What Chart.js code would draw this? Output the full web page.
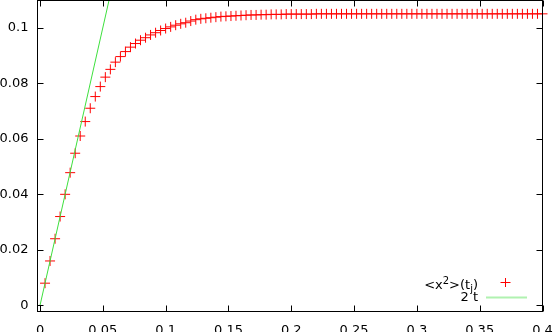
<!DOCTYPE html>
<html>
<head>
<meta charset="utf-8">
<style>
  body { margin: 0; background: #fff; }
</style>
</head>
<body>
<canvas id="myChart" width="554" height="332"></canvas>

<script src="https://cdn.jsdelivr.net/npm/chart.js@4.4.0/dist/chart.umd.min.js"></script>
<script>
    // sample times t_j = 0.004 * j
    const tValues = [];
    for (let j = 1; j <= 100; j++) tValues.push(+(0.004 * j).toFixed(3));

    // <x^2>(t_j)
    const msdValues = [
        0.0080, 0.0160, 0.0240, 0.0320, 0.0400, 0.0478, 0.0548, 0.0610, 0.0662, 0.0710,
        0.0752, 0.0788, 0.0822, 0.0850, 0.0876, 0.0896, 0.0914, 0.0930, 0.0943, 0.0955,
        0.0964, 0.0974, 0.0982, 0.0990, 0.0997, 0.1003, 0.1009, 0.1014, 0.1018, 0.1024,
        0.1029, 0.1032, 0.1034, 0.1036, 0.1038, 0.1040, 0.1041, 0.1042, 0.1043, 0.1044,
        0.1045, 0.1046, 0.1046, 0.1047, 0.1047, 0.1048, 0.1048, 0.1048, 0.1049, 0.1049,
        0.1049, 0.1049, 0.1049, 0.1049, 0.1050, 0.1050, 0.1050, 0.1050, 0.1050, 0.1050,
        0.1050, 0.1050, 0.1050, 0.1050, 0.1050, 0.1050, 0.1050, 0.1050, 0.1050, 0.1050,
        0.1050, 0.1050, 0.1050, 0.1050, 0.1050, 0.1050, 0.1050, 0.1050, 0.1050, 0.1050,
        0.1050, 0.1050, 0.1050, 0.1050, 0.1050, 0.1050, 0.1050, 0.1050, 0.1050, 0.1050,
        0.1050, 0.1050, 0.1050, 0.1050, 0.1050, 0.1050, 0.1050, 0.1050, 0.1050, 0.1050
    ];

    // the straight line 2*t, two end points
    const lineT = [0, 0.4];
    const lineY = [0, 0.8];

    const xTicks = [0, 0.05, 0.1, 0.15, 0.2, 0.25, 0.3, 0.35, 0.4];
    const xTickLabels = ['0', '0.05', '0.1', '0.15', '0.2', '0.25', '0.3', '0.35', '0.4'];
    const yTicks = [0, 0.02, 0.04, 0.06, 0.08, 0.1];
    const yTickLabels = ['0', '0.02', '0.04', '0.06', '0.08', '0.1'];

    const pointData = tValues.map((t, i) => ({ x: t, y: msdValues[i] }));
    const lineData = lineT.map((t, i) => ({ x: t, y: lineY[i] }));

    Chart.defaults.font.family = 'DejaVu Sans';
    Chart.defaults.font.size = 13;
    Chart.defaults.color = '#000';

    // gnuplot style frame with inward ticks on all four sides + legend
    const framePlugin = {
        id: 'frame',
        afterDraw(chart) {
            const ctx = chart.ctx;
            const a = chart.chartArea;
            const xs = chart.scales.x, ys = chart.scales.y;
            ctx.save();
            ctx.strokeStyle = '#000';
            ctx.lineWidth = 1;
            ctx.beginPath();
            xTicks.forEach(v => {
                const px = Math.round(xs.getPixelForValue(v)) + 0.5;
                ctx.moveTo(px, a.bottom); ctx.lineTo(px, a.bottom - 6);
                ctx.moveTo(px, a.top); ctx.lineTo(px, a.top + 6);
            });
            yTicks.forEach(v => {
                const py = Math.round(ys.getPixelForValue(v)) + 0.5;
                ctx.moveTo(a.left, py); ctx.lineTo(a.left + 6, py);
                ctx.moveTo(a.right, py); ctx.lineTo(a.right - 6, py);
            });
            ctx.stroke();
            ctx.strokeRect(a.left, a.top, a.right - a.left, a.bottom - a.top);

            // legend
            ctx.fillStyle = '#000';
            ctx.textBaseline = 'alphabetic';
            const big = '13px "DejaVu Sans"', small = '10px "DejaVu Sans"';
            const parts = [['<x', big, 0], ['2', small, -5], ['>(t', big, 0], ['j', small, 3], [')', big, 0]];
            let w = 0;
            parts.forEach(p => { ctx.font = p[1]; w += ctx.measureText(p[0]).width; });
            let x = 478 - w;
            ctx.textAlign = 'left';
            parts.forEach(p => {
                ctx.font = p[1];
                ctx.fillText(p[0], x, 289 + p[2]);
                x += ctx.measureText(p[0]).width;
            });
            ctx.font = big;
            ctx.textAlign = 'right';
            ctx.fillText('2 t', 478, 301);

            ctx.strokeStyle = '#ff0000';
            ctx.beginPath();
            ctx.moveTo(500.5, 282.5); ctx.lineTo(510.5, 282.5);
            ctx.moveTo(505.5, 278); ctx.lineTo(505.5, 287);
            ctx.stroke();

            ctx.strokeStyle = '#b0f2b0';
            ctx.lineWidth = 2;
            ctx.beginPath();
            ctx.moveTo(486, 297.5); ctx.lineTo(527, 297.5);
            ctx.stroke();
            ctx.restore();
        }
    };

    const ctx = document.getElementById('myChart').getContext('2d');
    const myChart = new Chart(ctx, {
        type: 'scatter',
        data: {
            datasets: [{
                label: '2 t',
                type: 'line',
                data: lineData,
                borderColor: '#3ee03e',
                borderWidth: 1,
                pointRadius: 0,
                fill: false,
                clip: 0,
                order: 0
            }, {
                label: '<x2>(tj)',
                data: pointData,
                pointStyle: 'cross',
                pointRadius: 5,
                pointHoverRadius: 5,
                borderColor: '#ff0000',
                backgroundColor: '#ff0000',
                borderWidth: 1,
                clip: false,
                order: 1
            }]
        },
        options: {
            responsive: false,
            animation: false,
            events: [],
            layout: { autoPadding: false, padding: { top: 0.5, right: 11.5, bottom: 0, left: 0 } },
            plugins: { legend: { display: false }, tooltip: { enabled: false } },
            scales: {
                x: {
                    type: 'linear',
                    min: -0.002,
                    max: 0.4,
                    grid: { display: false, drawTicks: false },
                    border: { display: false },
                    afterBuildTicks: s => { s.ticks = xTicks.map(v => ({ value: v })); },
                    afterFit: s => {
                        s.height = 20.5;
                        s.paddingLeft = 0; s.paddingRight = 0; s.paddingTop = 0; s.paddingBottom = 0;
                    },
                    ticks: {
                        padding: 11,
                        maxRotation: 0,
                        autoSkip: false,
                        callback: (v, i) => xTickLabels[i]
                    }
                },
                y: {
                    type: 'linear',
                    min: -0.0022,
                    max: 0.1098,
                    grid: { display: false, drawTicks: false },
                    border: { display: false },
                    afterBuildTicks: s => { s.ticks = yTicks.map(v => ({ value: v })); },
                    afterFit: s => {
                        s.width = 37.5;
                        s.paddingLeft = 0; s.paddingRight = 0; s.paddingTop = 0; s.paddingBottom = 0;
                    },
                    ticks: {
                        padding: 9,
                        autoSkip: false,
                        callback: (v, i) => yTickLabels[i]
                    }
                }
            }
        },
        plugins: [framePlugin]
    });
</script>
</body>
</html>
